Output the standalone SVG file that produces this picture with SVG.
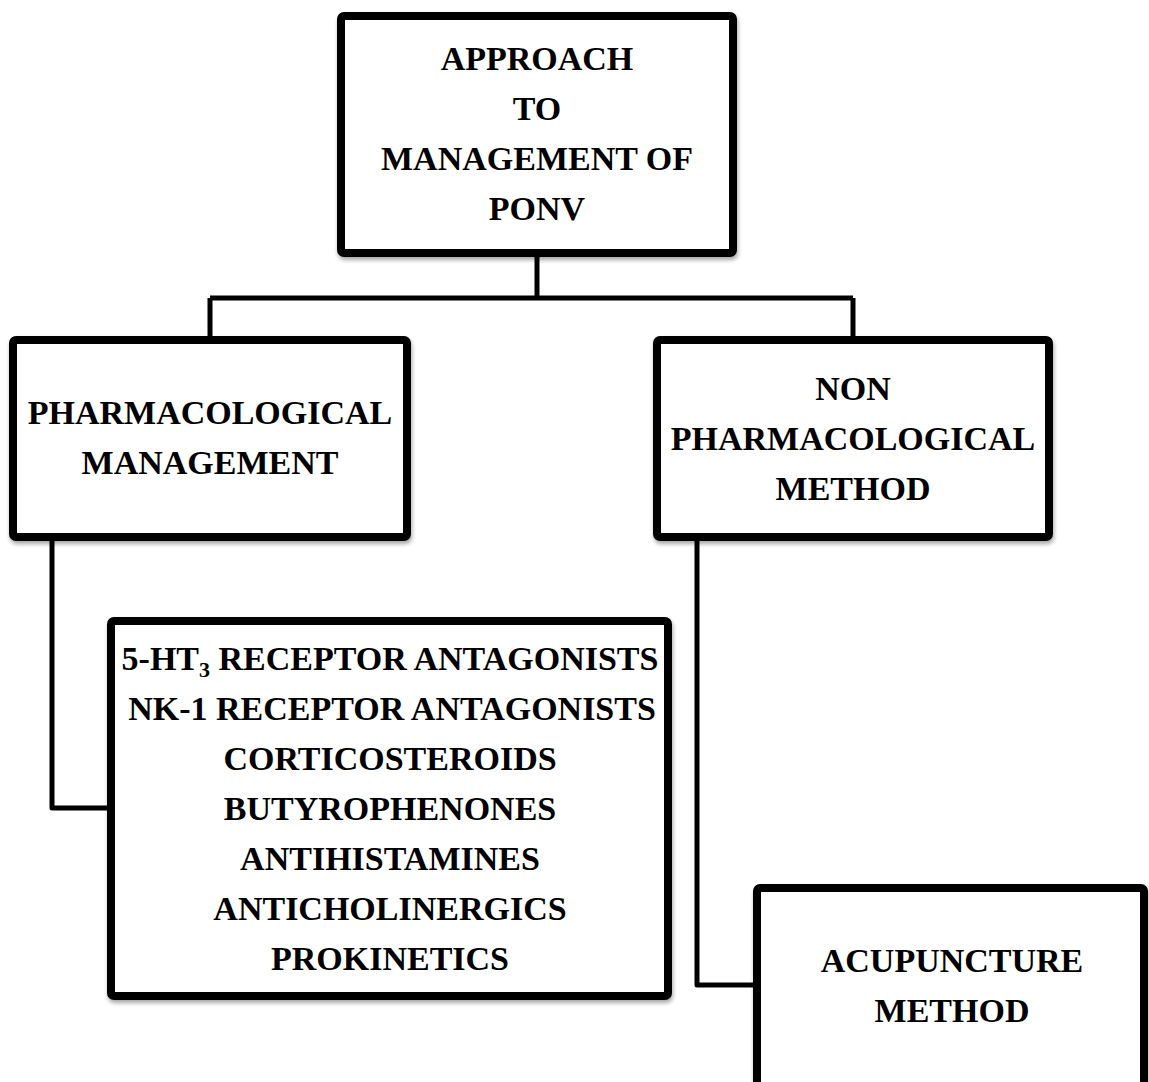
<svg xmlns="http://www.w3.org/2000/svg" width="1149" height="1082" viewBox="0 0 1149 1082">
  <style>
    .box { fill: #ffffff; stroke: #000000; stroke-width: 8; filter: url(#shadow); }
    .conn { fill: none; stroke: #000000; stroke-width: 5; stroke-linejoin: round; }
    text { font-family: "Liberation Serif", "Times New Roman", serif; font-weight: bold; font-size: 34px; fill: #000000; text-anchor: middle; }
  </style>
  <defs>
    <filter id="shadow" x="-5%" y="-5%" width="112%" height="115%">
      <feGaussianBlur in="SourceAlpha" stdDeviation="2"/>
      <feOffset dx="1" dy="3" result="b"/>
      <feComponentTransfer><feFuncA type="linear" slope="0.35"/></feComponentTransfer>
      <feMerge><feMergeNode/><feMergeNode in="SourceGraphic"/></feMerge>
    </filter>
  </defs>
  <rect width="1149" height="1082" fill="#ffffff"/>

  <g id="connectors">
    <path class="conn" d="M537,257 V298 M210,298 H853 M210,298 V336 M853,298 V336"/>
    <path class="conn" d="M52,541 V808 H107"/>
    <path class="conn" d="M697,541 V985 H753"/>
  </g>

  <g id="node-approach">
    <rect class="box" x="341" y="16" width="392" height="237" rx="3"/>
    <text x="537" y="70">APPROACH</text>
    <text x="537" y="120">TO</text>
    <text x="537" y="170">MANAGEMENT OF</text>
    <text x="537" y="220">PONV</text>
  </g>

  <g id="node-pharmacological">
    <rect class="box" x="13" y="340" width="394" height="197" rx="3"/>
    <text x="210" y="424">PHARMACOLOGICAL</text>
    <text x="210" y="474">MANAGEMENT</text>
  </g>

  <g id="node-nonpharmacological">
    <rect class="box" x="657" y="340" width="392" height="197" rx="3"/>
    <text x="853" y="400">NON</text>
    <text x="853" y="450">PHARMACOLOGICAL</text>
    <text x="853" y="500">METHOD</text>
  </g>

  <g id="node-drugs">
    <rect class="box" x="111" y="621" width="557" height="375" rx="3"/>
    <text x="390" y="670">5-HT<tspan font-size="22" dy="7">3</tspan><tspan dy="-7"> RECEPTOR ANTAGONISTS</tspan></text>
    <text x="392" y="720">NK-1 RECEPTOR ANTAGONISTS</text>
    <text x="390" y="770">CORTICOSTEROIDS</text>
    <text x="390" y="820">BUTYROPHENONES</text>
    <text x="390" y="870">ANTIHISTAMINES</text>
    <text x="390" y="920">ANTICHOLINERGICS</text>
    <text x="390" y="970">PROKINETICS</text>
  </g>

  <g id="node-acupuncture">
    <rect class="box" x="757" y="888" width="387" height="210" rx="3"/>
    <text x="952" y="972">ACUPUNCTURE</text>
    <text x="952" y="1022">METHOD</text>
  </g>
</svg>
